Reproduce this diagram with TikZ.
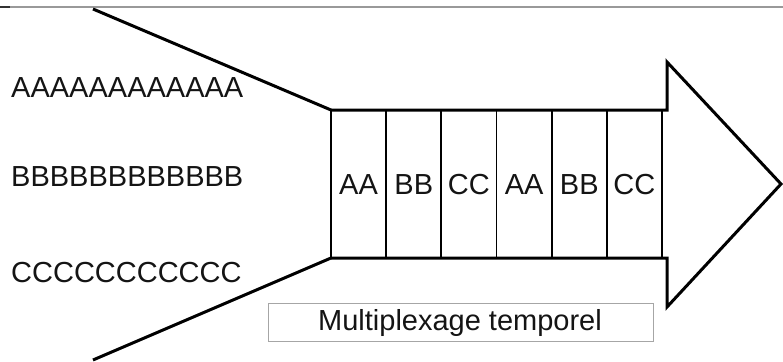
\documentclass[tikz,border=0pt]{standalone}
\usepackage{fontspec}
\setmainfont{Liberation Sans}
\begin{document}
\begin{tikzpicture}[x=1pt,y=-1pt,
  txt/.style={inner sep=0pt,anchor=base west,text=black!92,font=\fontsize{29}{30}\selectfont},
  cell/.style={draw,line width=1.8pt,minimum width=55.17pt,minimum height=148pt,inner sep=0pt,anchor=center},
  thick line/.style={line width=3pt,line join=miter},
]
\useasboundingbox (0,0) rectangle (783,361);
\draw[gray!80,line width=1.4pt] (0,7) -- (783,7);
\draw[black!80,line width=1.6pt] (0,7) -- (10,7);
% left input streams
\node[txt] (a) at (11,97.5) {AAAAAAAAAAAA};
\node[txt] (b) at (11,186.5) {BBBBBBBBBBBB};
\node[txt] (c) at (11,282.5) {CCCCCCCCCCC};
% time slots
\foreach \t [count=\i from 0] in {AA,BB,CC,AA,BB,CC}{
  \node[cell] (s\i) at ({331+55.17*\i+27.58},184) {};
  \node[txt,anchor=base] (l\i) at ({331+55.17*\i+27.58},194) {\t};
}
\coordinate (tl) at (331,110);
\coordinate (bl) at (331,258);
\coordinate (ftop) at (93,9);
\coordinate (fbot) at (93,360);
\coordinate (tip) at (781,184);
% funnel
\draw[thick line] (ftop) -- (tl);
\draw[thick line] (fbot) -- (bl);
% arrow outline
\draw[thick line] (tl) -- (667,110) -- (667,62) -- (tip) -- (667,307) -- (667,258) -- (bl);
% label
\node[draw=gray!70,line width=1pt,minimum width=385pt,minimum height=38pt,inner sep=0pt] (box) at (460.5,322) {};
\node[txt,anchor=base] (lab) at (460,330) {Multiplexage temporel};
\end{tikzpicture}
\end{document}
